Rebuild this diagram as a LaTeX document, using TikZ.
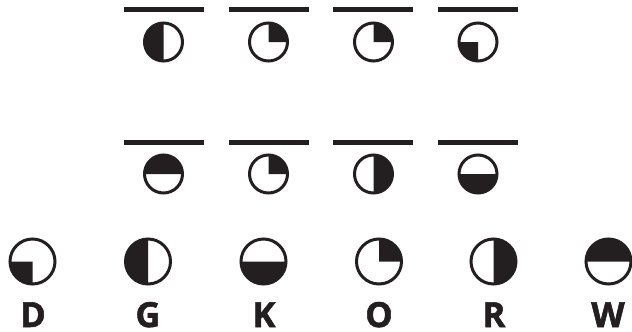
\documentclass[tikz,border=0pt]{standalone}
\usepackage{fontspec}
\setmainfont{Open Sans}[BoldFeatures={FakeBold=1.6}]
\definecolor{ink}{HTML}{231F20}
\newcommand\pieglyph[5]{% name, center, radius, start, end
  \coordinate (#1) at #2;
  \fill[ink] (#1) -- ++(#4:#3) arc[start angle=#4, end angle=#5, radius=#3] -- cycle;
  \draw[ink, line width=3pt] (#1) circle[radius=#3];
}
\tikzset{
  bar/.style={fill=ink},
  letter/.style={anchor=base, text=ink, inner sep=0pt, font=\fontsize{34.5}{36}\selectfont\bfseries}
}
\begin{document}
\begin{tikzpicture}[x=1pt,y=1pt]
\useasboundingbox (0,0) rectangle (632,-332);
% top row bars
\fill[bar] (124,-7) rectangle (204,-12);
\fill[bar] (229,-7) rectangle (309,-12);
\fill[bar] (333,-7) rectangle (413,-12);
\fill[bar] (438,-7) rectangle (518,-12);
% top row glyphs
\pieglyph{a1}{(163.5,-42)}{19}{90}{270}
\pieglyph{a2}{(268.5,-42)}{19}{0}{90}
\pieglyph{a3}{(373.5,-42)}{19}{0}{90}
\pieglyph{a4}{(478,-42)}{19}{180}{270}
% second row bars
\fill[bar] (124,-140) rectangle (204,-145);
\fill[bar] (229,-140) rectangle (309,-145);
\fill[bar] (333,-140) rectangle (413,-145);
\fill[bar] (438,-140) rectangle (518,-145);
% second row glyphs
\pieglyph{b1}{(163.5,-174)}{19}{0}{180}
\pieglyph{b2}{(268.5,-174)}{19}{0}{90}
\pieglyph{b3}{(373.5,-174)}{19}{-90}{90}
\pieglyph{b4}{(478,-174)}{19}{180}{360}
% bottom row glyphs
\pieglyph{cD}{(32.5,-261.5)}{22.5}{180}{270}
\pieglyph{cG}{(148,-261.5)}{22.5}{90}{270}
\pieglyph{cK}{(263.5,-261.5)}{22.5}{180}{360}
\pieglyph{cO}{(379,-261.5)}{22.5}{0}{90}
\pieglyph{cR}{(493.5,-261.5)}{22.5}{-90}{90}
\pieglyph{cW}{(608.5,-261.5)}{22.5}{0}{180}
% labels
\node[letter] (lD) at (33,-327) {D};
\node[letter] (lG) at (148,-327) {G};
\node[letter] (lK) at (264,-327) {K};
\node[letter] (lO) at (379,-327) {O};
\node[letter] (lR) at (494,-327) {R};
\node[letter] (lW) at (608,-327) {W};
\end{tikzpicture}
\end{document}
